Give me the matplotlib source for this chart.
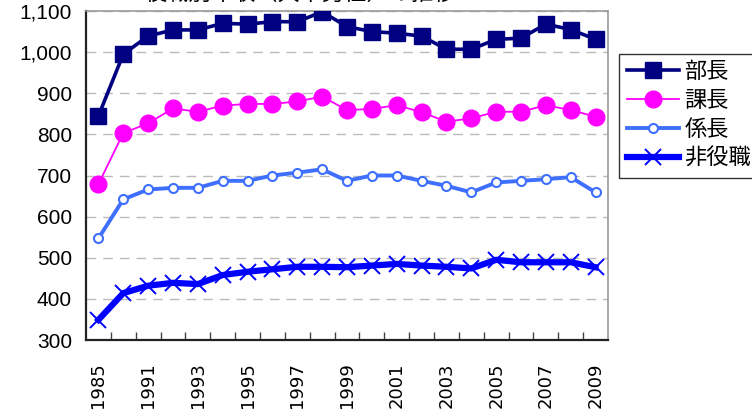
import matplotlib
matplotlib.use("Agg")
import matplotlib.pyplot as plt
from matplotlib.ticker import FuncFormatter, FixedLocator
import numpy as np

years = ["1985", "1990", "1991", "1992", "1993", "1994", "1995", "1996", "1997",
         "1998", "1999", "2000", "2001", "2002", "2003", "2004", "2005", "2006",
         "2007", "2008", "2009"]
bucho = [845, 995, 1039, 1054, 1054, 1070, 1068, 1074, 1074, 1098, 1062, 1050,
         1046, 1039, 1007, 1007, 1031, 1034, 1068, 1055, 1031]
kacho = [679, 803, 827, 863, 855, 870, 874, 874, 880, 892, 859, 862,
         871, 854, 831, 839, 855, 855, 871, 859, 843]
kakaricho = [547, 642, 666, 670, 670, 687, 687, 700, 707, 715, 687, 700,
             700, 687, 675, 659, 683, 687, 691, 696, 659]
hiyakushoku = [349, 414, 432, 439, 436, 458, 466, 472, 478, 478, 477, 481,
               485, 481, 478, 474, 495, 489, 489, 489, 477]
series_names = ["部長", "課長", "係長", "非役職"]
title_text = "役職別年収（大卒男性）の推移"

fam = ["Liberation Sans", "Noto Sans CJK JP", "DejaVu Sans"]
plt.rcParams["font.family"] = fam

fig = plt.figure(figsize=(7.52, 4.09), dpi=100)
ax = fig.add_axes([86/752, 1 - 340/409, (608-86)/752, (340-11)/409])

x = np.arange(len(years))
ax.plot(x, bucho, color="#000080", lw=2.6, marker="s", ms=11.5,
        mfc="#000080", mec="#000080", label=series_names[0], zorder=5)
ax.plot(x, kacho, color="#FF00FF", lw=1.3, marker="o", ms=12,
        mfc="#FF00FF", mec="#FF00FF", label=series_names[1], zorder=4)
ax.plot(x, kakaricho, color="#3F6FFF", lw=2.8, marker="o", ms=6.5,
        mfc="white", mec="#3F6FFF", mew=1.5, label=series_names[2], zorder=4)
ax.plot(x, hiyakushoku, color="#0000FF", lw=4.5, marker="x", ms=11,
        mec="#0000FF", mew=1.4, label=series_names[3], zorder=4)

ax.set_xlim(-0.5, len(years) - 0.5)
ax.set_ylim(300, 1100)
ax.set_yticks(np.arange(300, 1101, 100))
ax.yaxis.set_major_formatter(FuncFormatter(lambda v, p: f"{int(v):,}"))
ax.yaxis.grid(True, color="#BBBBBB", linestyle=(0, (7, 5)), lw=1.0)
ax.set_axisbelow(True)

ax.xaxis.set_major_locator(FixedLocator(x[::2]))
ax.set_xticklabels(years[::2], rotation=90, family="DejaVu Sans", fontsize=13)
ax.xaxis.set_minor_locator(FixedLocator(np.arange(0.5, len(years) - 0.5, 1)))
ax.tick_params(axis="x", which="major", length=0, pad=16)
ax.tick_params(axis="x", which="minor", length=6, direction="in", width=1, color="#444444")
ax.tick_params(axis="y", which="major", length=0, pad=10, labelsize=15)

for s in ["left", "bottom"]:
    ax.spines[s].set_color("#222222")
    ax.spines[s].set_linewidth(1.6)
for s in ["top", "right"]:
    ax.spines[s].set_color("#999999")
    ax.spines[s].set_linewidth(1.2)

leg = fig.legend(loc="upper left", bbox_to_anchor=(619/752, 1 - 54/409),
                 frameon=True, fancybox=False, prop={"family": fam, "size": 16},
                 handlelength=2.35, borderpad=0.35, labelspacing=0.36,
                 handletextpad=0.25, borderaxespad=0)
leg.get_frame().set_edgecolor("black")
leg.get_frame().set_linewidth(1.0)

fig.text(300/752, 1 + 0.5/409, title_text, ha="center", va="baseline",
         fontsize=16, family=fam)

fig.savefig("out.png", dpi=100)
